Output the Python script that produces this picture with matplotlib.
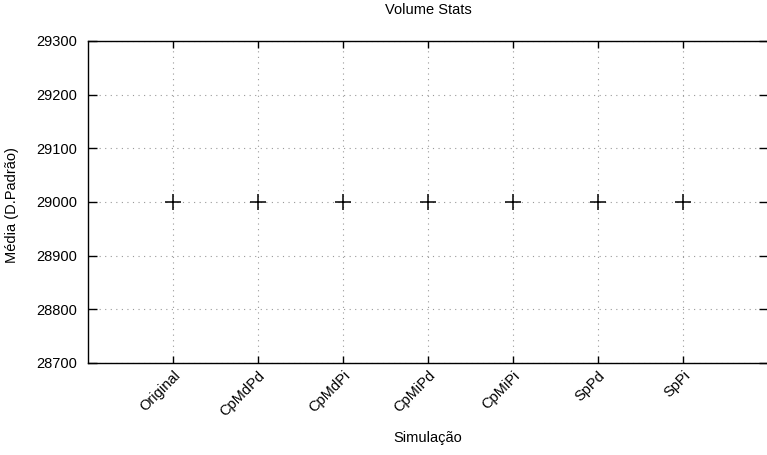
import matplotlib
matplotlib.use("Agg")
import matplotlib.pyplot as plt
import matplotlib.transforms as mtransforms

categories = ["Original", "CpMdPd", "CpMdPi", "CpMiPd", "CpMiPi", "SpPd", "SpPi"]
values = [29000, 29000, 29000, 29000, 29000, 29000, 29000]
yticks = [28700, 28800, 28900, 29000, 29100, 29200, 29300]

plt.rcParams['font.family'] = ['Liberation Sans', 'DejaVu Sans']
plt.rcParams['font.size'] = 10.5

W, H = 767, 455
fig = plt.figure(figsize=(W / 100, H / 100), dpi=100)
ax = fig.add_axes([88 / W, (H - 363) / H, 680 / W, 322 / H])

x = list(range(len(categories)))
ax.plot(x, values, linestyle='none', marker='+', markersize=11, markeredgewidth=1.1, color='black')

ax.set_xlim(-1, len(categories))
ax.set_ylim(28700, 29300)
ax.set_yticks(yticks)
ax.set_yticklabels([str(v) for v in yticks])
ax.set_xticks(x)
ax.set_xticklabels(categories, rotation=45, ha='right', va='top', rotation_mode='anchor')
offset = mtransforms.ScaledTranslation(-5 / 100, 0, fig.dpi_scale_trans)
for lbl in ax.get_xticklabels():
    lbl.set_transform(lbl.get_transform() + offset)

ax.grid(True, linestyle=(0, (1, 4)), color='#999999', linewidth=0.8)
ax.tick_params(axis='y', direction='in', length=6.5, width=1, right=True, pad=8)
ax.tick_params(axis='x', direction='in', length=5, width=1, top=True, pad=4)
for s in ax.spines.values():
    s.set_linewidth(1.0)

fig.text(428 / W, 1 - 10 / H, "Volume Stats", ha='center', va='center')
fig.text(428 / W, 1 - 438 / H, "Simulação", ha='center', va='center')
fig.text(12 / W, 1 - 205 / H, "Média (D.Padrão)", ha='center', va='center', rotation=90)

fig.savefig("out.png", dpi=100)
